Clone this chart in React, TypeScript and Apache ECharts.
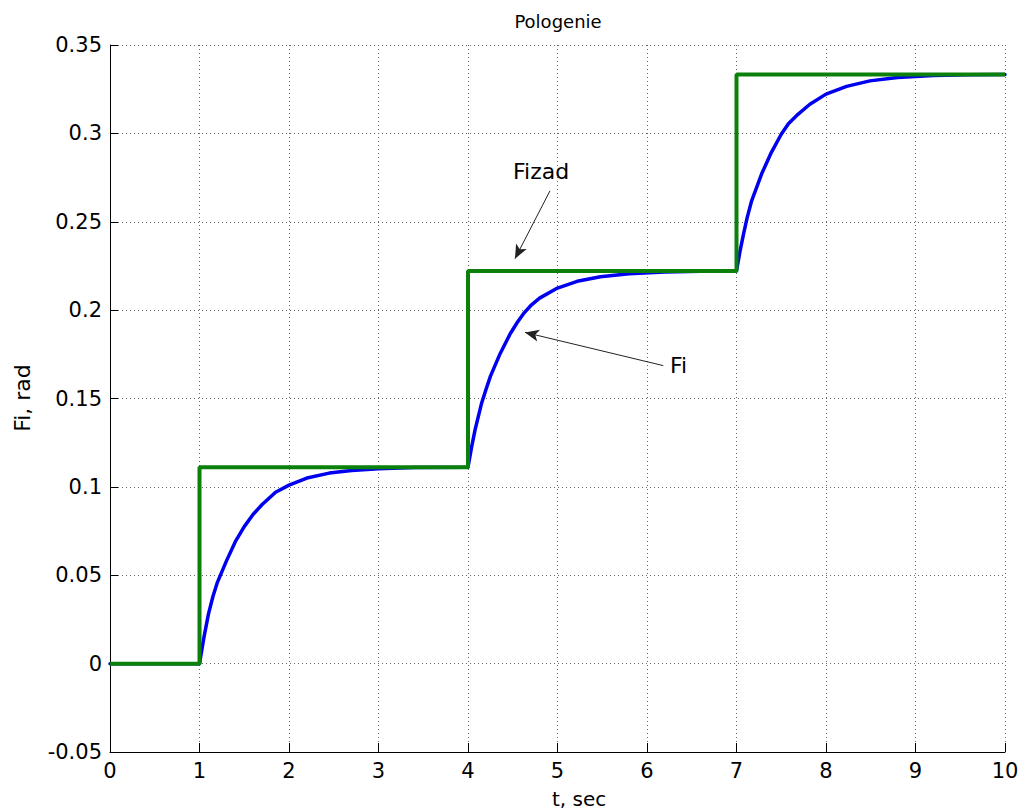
import React, { useEffect, useRef } from "react";
import * as echarts from "echarts";

const xTicks = { min: 0, max: 10, interval: 1 };
const yTicks = { min: -0.05, max: 0.35, interval: 0.05 };

// Fi (response)
const fiData: [number, number][] = [
  [0, 0], [1, 0],
  [1.05, 0.015], [1.1, 0.028], [1.15, 0.038], [1.2, 0.046], [1.3, 0.058], [1.4, 0.069], [1.5, 0.0775],
  [1.6, 0.0845], [1.7, 0.09], [1.85, 0.097], [2.0, 0.101], [2.2, 0.105], [2.45, 0.1078],
  [2.7, 0.1093], [3.0, 0.1103], [3.4, 0.1109], [4.0, 0.1111],
  [4.04, 0.1225], [4.08, 0.1325], [4.15, 0.147], [4.2, 0.155], [4.25, 0.1625], [4.36, 0.1755],
  [4.47, 0.1865], [4.55, 0.193], [4.62, 0.198], [4.7, 0.2025], [4.8, 0.2068], [5.0, 0.2125],
  [5.22, 0.2163], [5.48, 0.2189], [5.8, 0.2206], [6.2, 0.2216], [6.6, 0.222], [7.0, 0.2222],
  [7.04, 0.2335], [7.08, 0.2434], [7.12, 0.2525], [7.17, 0.262], [7.28, 0.277], [7.39, 0.2893],
  [7.5, 0.2995], [7.58, 0.3055], [7.67, 0.31], [7.82, 0.3165], [8.0, 0.3222], [8.23, 0.3266],
  [8.49, 0.3297], [8.8, 0.3316], [9.2, 0.3327], [9.6, 0.3331], [10, 0.3333],
];

// Fizad (set point), step signal
const fizadData: [number, number][] = [
  [0, 0], [1, 0], [1, 0.1111], [4, 0.1111], [4, 0.2222], [7, 0.2222], [7, 0.3333], [10, 0.3333],
];

// annotations (data coordinates)
const fizadLabel = { text: "Fizad", at: [4.503, 0.2783] };
const fiLabel = { text: "Fi", at: [6.257, 0.1686] };
const arrows: [number, number][][] = [
  [[4.916, 0.2675], [4.525, 0.2291]],
  [[6.182, 0.1686], [4.637, 0.1874]],
];

const titleText = "Pologenie";
const xName = "t, sec";
const yName = "Fi, rad";

const fmt = (v: number) => String(parseFloat(v.toFixed(2)));

export default function App() {
  const ref = useRef<HTMLDivElement>(null);
  useEffect(() => {
    document.body.style.margin = "0";
    const chart = echarts.init(ref.current!, undefined, { renderer: "svg" });
    const tickFont = { fontFamily: "DejaVu Sans", fontSize: 21, color: "#000" };
    const split = { show: true, lineStyle: { type: [1, 3] as any, color: "#666", width: 1 } };
    chart.setOption({
      animation: false,
      backgroundColor: "#fff",
      grid: { left: 110, right: 22, top: 45, bottom: 60, containLabel: false },
      xAxis: {
        type: "value",
        min: xTicks.min,
        max: xTicks.max,
        interval: xTicks.interval,
        axisLine: { show: true, onZero: false, lineStyle: { color: "#000", width: 1 } },
        axisTick: { show: true, inside: true, length: 9, lineStyle: { color: "#000" } },
        axisLabel: { ...tickFont, margin: 8, formatter: fmt },
        splitLine: split,
      },
      yAxis: {
        type: "value",
        min: yTicks.min,
        max: yTicks.max,
        interval: yTicks.interval,
        axisLine: { show: true, onZero: false, lineStyle: { color: "#000", width: 1 } },
        axisTick: { show: true, inside: true, length: 8, lineStyle: { color: "#000" } },
        axisLabel: { ...tickFont, margin: 8, formatter: fmt },
        splitLine: split,
      },
      series: [
        {
          name: "Fi",
          type: "line",
          data: fiData,
          showSymbol: false,
          symbol: "none",
          smooth: false,
          lineStyle: { color: "#0000f0", width: 3.5, join: "round", cap: "round" },
          z: 2,
        },
        {
          name: "Fizad",
          type: "line",
          data: fizadData,
          showSymbol: false,
          symbol: "none",
          lineStyle: { color: "#0b800b", width: 4 },
          z: 3,
          markLine: {
            silent: true,
            symbol: ["none", "arrow"],
            symbolSize: [9, 14],
            label: { show: false },
            lineStyle: { color: "#222", width: 1, type: "solid" },
            emphasis: { disabled: true },
            data: arrows.map((a) => [{ coord: a[0] }, { coord: a[1] }]),
          },
        },
      ],
    });
    const p1 = chart.convertToPixel({ gridIndex: 0 }, fizadLabel.at) as number[];
    const p2 = chart.convertToPixel({ gridIndex: 0 }, fiLabel.at) as number[];
    const annFont = { fontFamily: "DejaVu Sans", fontSize: 22, fill: "#000" };
    chart.setOption({
      graphic: [
        {
          type: "text",
          x: 558,
          y: 21,
          style: { text: titleText, fontFamily: "DejaVu Sans", fontSize: 18, fill: "#000", align: "center", verticalAlign: "middle" },
        },
        {
          type: "text",
          x: 552,
          y: 799,
          style: { text: xName, fontFamily: "DejaVu Sans", fontSize: 20, fill: "#000", align: "left", verticalAlign: "middle" },
        },
        {
          type: "text",
          x: 22,
          y: 398,
          rotation: Math.PI / 2,
          style: { text: yName, fontFamily: "DejaVu Sans", fontSize: 22, fill: "#000", align: "center", verticalAlign: "middle" },
        },
        {
          type: "text",
          x: p1[0],
          y: p1[1],
          style: { text: fizadLabel.text, ...annFont, align: "left", verticalAlign: "middle" },
        },
        {
          type: "text",
          x: p2[0],
          y: p2[1],
          style: { text: fiLabel.text, ...annFont, align: "left", verticalAlign: "middle" },
        },
      ],
    });
    return () => chart.dispose();
  }, []);
  return <div ref={ref} style={{ width: 1027, height: 812 }} />;
}
